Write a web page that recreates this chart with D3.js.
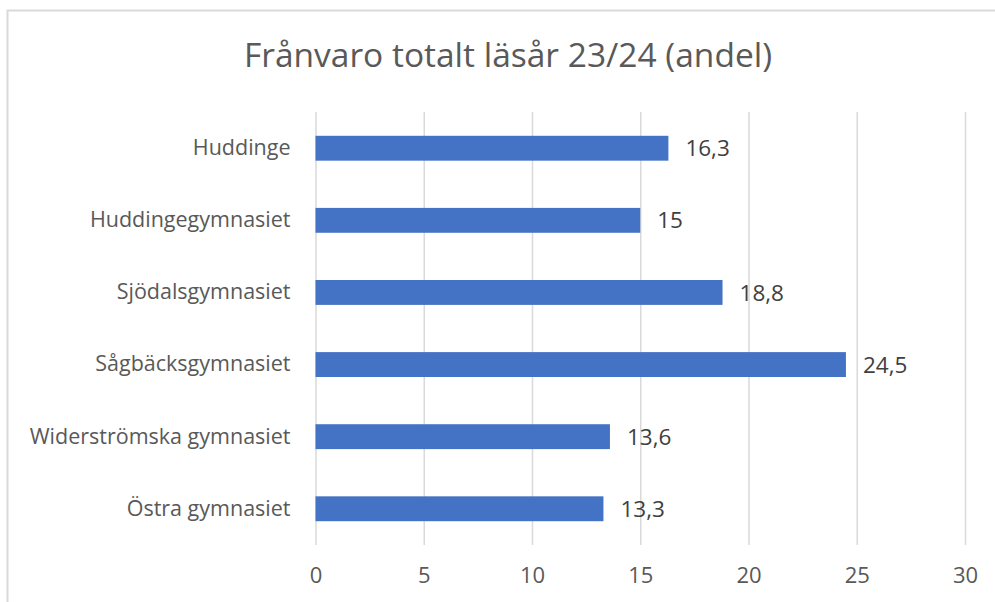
<!DOCTYPE html>
<html><head><meta charset="utf-8">
<script src="https://cdn.jsdelivr.net/npm/d3@7/dist/d3.min.js"></script>
<style>
html,body{margin:0;padding:0;background:#fff;}
svg{display:block;font-family:"Open Sans", "Liberation Sans", sans-serif;}
</style></head><body>
<svg id="c" width="995" height="602"></svg>
<script>
const title = "Frånvaro totalt läsår 23/24 (andel)";
const categories = ["Huddinge","Huddingegymnasiet","Sjödalsgymnasiet","Sågbäcksgymnasiet","Widerströmska gymnasiet","Östra gymnasiet"];
const values = [16.3, 15, 18.8, 24.5, 13.6, 13.3];
const valueLabels = ["16,3","15","18,8","24,5","13,6","13,3"];
const xTicks = [0,5,10,15,20,25,30];

const svg = d3.select("#c");
svg.append("rect").attr("x",7.5).attr("y",10.5).attr("width",1000).attr("height",600)
  .attr("fill","#fff").attr("stroke","#d9d9d9").attr("stroke-width",2);

svg.append("text").attr("x",508).attr("y",67).attr("text-anchor","middle")
  .attr("font-size",33.5).attr("fill","#595959").text(title);

const x = d3.scaleLinear().domain([0,30]).range([315.5,965]);
const y = d3.scaleBand().domain(categories).range([112,545]).paddingInner(0.655).paddingOuter(0.33);

const gx = svg.append("g").attr("transform","translate(0,545)")
  .call(d3.axisBottom(x).tickValues(xTicks).tickSize(-433).tickPadding(22));
gx.select(".domain").remove();
gx.selectAll(".tick line").attr("stroke","#d9d9d9").attr("stroke-width",1.5);
gx.selectAll(".tick text").attr("font-size",22).attr("fill","#595959").attr("font-family","Open Sans");

const gy = svg.append("g").attr("transform","translate(315.5,0)")
  .call(d3.axisLeft(y).tickSize(0).tickPadding(25));
gy.select(".domain").remove();
gy.selectAll(".tick text").attr("font-size",21.5).attr("fill","#595959").attr("font-family","Open Sans");

svg.append("g").selectAll("rect").data(values).join("rect")
  .attr("x",x(0)).attr("y",(d,i)=>y(categories[i]))
  .attr("width",d=>x(d)-x(0)).attr("height",y.bandwidth())
  .attr("fill","#4472c4");

svg.append("g").selectAll("text").data(values).join("text")
  .attr("x",d=>x(d)+17).attr("y",(d,i)=>y(categories[i])+y.bandwidth()/2)
  .attr("dy","0.36em").attr("font-size",22.5).attr("fill","#404040")
  .text((d,i)=>valueLabels[i]);
</script></body></html>
